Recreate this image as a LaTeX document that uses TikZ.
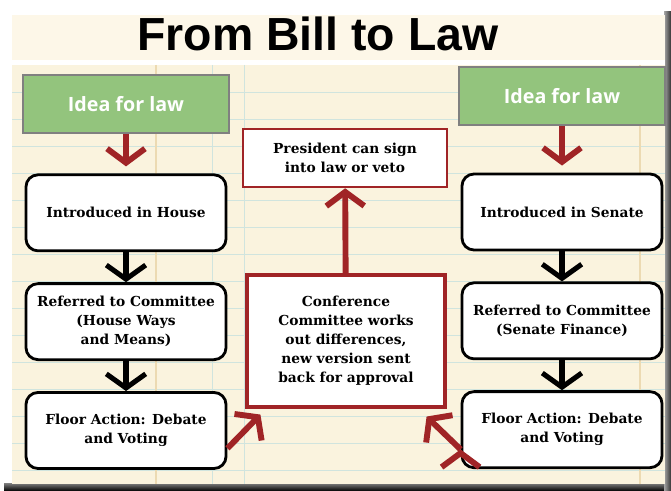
\documentclass[tikz,border=0pt]{standalone}
\usepackage{fontspec}
\setmainfont{DejaVu Serif}
\newfontfamily\titlefont{Liberation Sans}
\newfontfamily\ideafont{Open Sans}
\usetikzlibrary{arrows.meta}
\usetikzlibrary{positioning}

\definecolor{bgcream}{RGB}{250,243,222}
\definecolor{titlecream}{RGB}{253,247,232}
\definecolor{ruleblue}{RGB}{208,228,222}
\definecolor{ruletan}{RGB}{236,218,178}
\definecolor{ideagreen}{RGB}{147,196,125}
\definecolor{lawred}{RGB}{160,36,38}

\begin{document}
\begin{tikzpicture}[x=0.025cm,y=-0.025cm,node distance=2.72cm,on grid,
    idea/.style={draw=gray,line width=1.2pt,fill=ideagreen,text=white,
        minimum width=5.15cm,minimum height=1.45cm,
        font=\ideafont\bfseries\fontsize{14}{16}\selectfont},
    stepbox/.style={draw=black,line width=2pt,rounded corners=0.3cm,fill=white,
        minimum width=5cm,minimum height=1.9cm,align=center,
        font=\bfseries\fontsize{9.8}{13.5}\selectfont},
    redbox/.style={draw=lawred,line width=1.8pt,fill=white,align=center,
        font=\bfseries\fontsize{9.8}{13.5}\selectfont},
    redarrow/.style={draw=lawred,line width=4.2pt,-{Straight Barb[length=10pt,width=27pt]}},
    blackarrow/.style={draw=black,line width=3.6pt,-{Straight Barb[length=10pt,width=28pt]}}]
    \useasboundingbox (0,0) rectangle (671,491);
    % frame and paper
    \fill[white] (0,0) rectangle (671,491);
    \shade[top color=gray,bottom color=black] (4,483) rectangle (671,491);
    \shade[left color=gray!70,right color=black!80] (664,12) rectangle (671,491);
    \fill[bgcream] (12,15) rectangle (665,484);
    \fill[titlecream] (12,15) rectangle (665,60);
    \fill[white] (12,60) rectangle (665,65);
    \foreach \y in {92,119,...,480}
        \draw[ruleblue,line width=0.5pt] (12,\y) -- (665,\y);
    \draw[ruletan,line width=1.5pt] (156,65) -- (156,484);
    \draw[ruleblue,line width=0.6pt] (212,65) -- (212,484);
    \draw[ruleblue,line width=0.6pt] (244,65) -- (244,484);
    \draw[ruletan,line width=1.2pt] (640,65) -- (640,484);
    \node[font=\titlefont\bfseries\fontsize{33}{36}\selectfont] (title) at (318,34) {From Bill to Law};

    % House side
    \node[idea] (h_0) at (126,104) {Idea for law};
    \node[stepbox] (h_1) [below=of h_0] {Introduced in House};
    \node[stepbox] (h_2) [below=of h_1] {Referred to Committee\\(House Ways\\and Means)};
    \node[stepbox] (h_3) [below=of h_2] {Floor Action: Debate\\and Voting};

    % Senate side
    \node[stepbox] (s_1) at (562,212) {Introduced in Senate};
    \node[idea] (s_0) [above=2.9cm of s_1] {Idea for law};
    \node[stepbox] (s_2) [below=of s_1] {Referred to Committee\\(Senate Finance)};
    \node[stepbox] (s_3) [below=of s_2] {Floor Action: Debate\\and Voting};

    % middle
    \node[redbox,minimum width=5.1cm,minimum height=1.45cm] (pres) at (345,158) {President can sign\\into law or veto};
    \node[redbox,line width=2.2pt,minimum width=4.95cm,minimum height=3.3cm] (conf) at (346,341) {Conference\\Committee works\\out differences,\\new version sent\\back for approval};

    \path[redarrow,shorten >=5pt]
        (h_0) edge (h_1)
        (s_0) edge (s_1);
    \path[blackarrow]
        (h_1) edge (h_2)
        (h_2) edge (h_3)
        (s_1) edge (s_2)
        (s_2) edge (s_3);
    \path[redarrow]
        (conf) edge (pres)
        (h_3.-10) edge ([shift={(15,6)}]conf.south west)
        (s_3.191) edge ([shift={(-20,8)}]conf.south east);
\end{tikzpicture}
\end{document}
